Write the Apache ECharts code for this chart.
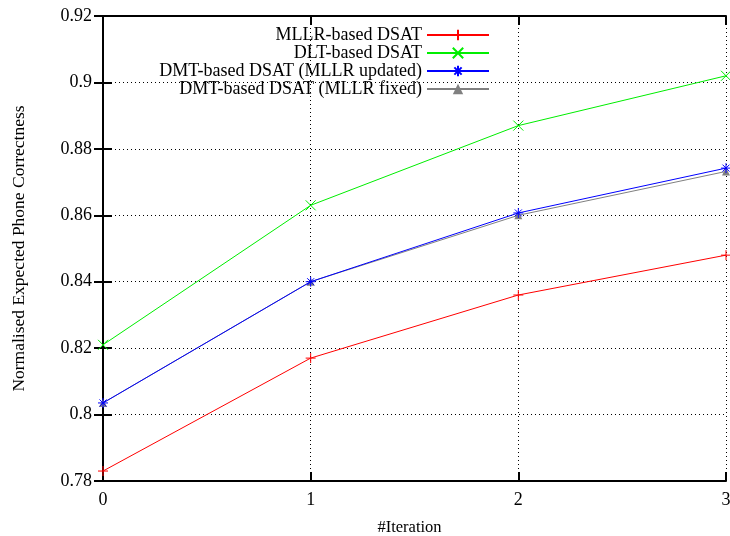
<!DOCTYPE html>
<html>
<head>
<meta charset="utf-8">
<script src="https://cdn.jsdelivr.net/npm/echarts@6/dist/echarts.min.js"></script>
<style>html,body{margin:0;padding:0;background:#fff}#c{width:730px;height:536px}</style>
</head>
<body>
<div id="c"></div>
<script>
const iterations = [0, 1, 2, 3];
const seriesNames = ['MLLR-based DSAT', 'DLT-based DSAT', 'DMT-based DSAT (MLLR updated)', 'DMT-based DSAT (MLLR fixed)'];
const mllrValues = [0.783, 0.817, 0.836, 0.848];
const dltValues = [0.821, 0.863, 0.887, 0.902];
const dmtUpdatedValues = [0.8035, 0.840, 0.8607, 0.8742];
const dmtFixedValues = [0.8035, 0.840, 0.8600, 0.8732];
const yTicks = [0.78, 0.8, 0.82, 0.84, 0.86, 0.88, 0.9, 0.92];
const xTicks = [0, 1, 2, 3];

const FONT = 'Liberation Serif';
const colors = ['#ff0000', '#00ee00', '#0000ff', '#808080'];
const symbols = [
  'path://M0,-1L0,1M-1,0L1,0',
  'path://M-1,-1L1,1M-1,1L1,-1',
  'path://M0,-1L0,1M-1,0L1,0M-0.7,-0.7L0.7,0.7M-0.7,0.7L0.7,-0.7',
  'triangle'
];
const valuesList = [mllrValues, dltValues, dmtUpdatedValues, dmtFixedValues];

function fmtY(v) {
  const r = Math.round(v * 100) / 100;
  return String(r);
}

const series = seriesNames.map((name, i) => ({
  name: name,
  type: 'line',
  data: iterations.map((x, j) => [x, valuesList[i][j]]),
  symbol: symbols[i],
  symbolSize: i === 3 ? 8 : 10,
  showAllSymbol: true,
  lineStyle: { color: colors[i], width: 1 },
  itemStyle: { color: i === 3 ? colors[i] : 'none', borderColor: colors[i], borderWidth: i === 3 ? 0 : 1 },
  emphasis: { disabled: true },
  z: 10 - i,
  animation: false
}));

const legendTops = [26, 44, 62, 80];
const legends = seriesNames.map((name, i) => ({
  data: [name],
  right: 240,
  top: legendTops[i],
  align: 'right',
  itemWidth: 62,
  itemHeight: 13,
  itemGap: 0,
  padding: 0,
  selectedMode: false,
  textStyle: { fontFamily: FONT, fontSize: 18, color: '#000' }
}));

const axisLineStyle = { show: true, lineStyle: { color: '#000', width: 2 } };

const option = {
  animation: false,
  backgroundColor: '#fff',
  grid: { left: 103, right: 4, top: 16, bottom: 55, outerBoundsMode: 'none', containLabel: false },
  legend: legends,
  xAxis: [
    {
      type: 'value', min: 0, max: 3, interval: 1, position: 'bottom',
      name: '#Iteration', nameLocation: 'middle', nameGap: 38,
      nameTextStyle: { fontFamily: FONT, fontSize: 16.5, color: '#000', padding: [0, 10, 0, 0] },
      axisLine: axisLineStyle,
      axisTick: { show: true, inside: true, length: 9, lineStyle: { color: '#000', width: 2 } },
      axisLabel: { fontFamily: FONT, fontSize: 18, color: '#000', margin: 10, formatter: v => String(xTicks[v]) },
      splitLine: { show: true, lineStyle: { color: '#000', type: [1, 3], width: 1 } }
    },
    {
      type: 'value', min: 0, max: 3, interval: 1, position: 'top',
      axisLine: axisLineStyle,
      axisTick: { show: true, inside: true, length: 9, lineStyle: { color: '#000', width: 2 } },
      axisLabel: { show: false },
      splitLine: { show: false }
    }
  ],
  yAxis: [
    {
      type: 'value', min: 0.78, max: 0.92, interval: 0.02, position: 'left',
      name: 'Normalised Expected Phone Correctness', nameLocation: 'middle', nameGap: 75,
      nameTextStyle: { fontFamily: FONT, fontSize: 17.5, color: '#000' },
      axisLine: axisLineStyle,
      axisTick: { show: true, inside: true, length: 9, lineStyle: { color: '#000', width: 2 } },
      axisLabel: { fontFamily: FONT, fontSize: 18, color: '#000', margin: 11, formatter: v => fmtY(v) },
      splitLine: { show: true, lineStyle: { color: '#000', type: [1, 3], width: 1 } }
    },
    {
      type: 'value', min: 0.78, max: 0.92, interval: 0.02, position: 'right',
      axisLine: axisLineStyle,
      axisTick: { show: true, inside: true, length: 9, lineStyle: { color: '#000', width: 2 } },
      axisLabel: { show: false },
      splitLine: { show: false }
    }
  ],
  series: series
};

const chart = echarts.init(document.getElementById('c'), null, { renderer: 'canvas' });
chart.setOption(option);
</script>
</body>
</html>
